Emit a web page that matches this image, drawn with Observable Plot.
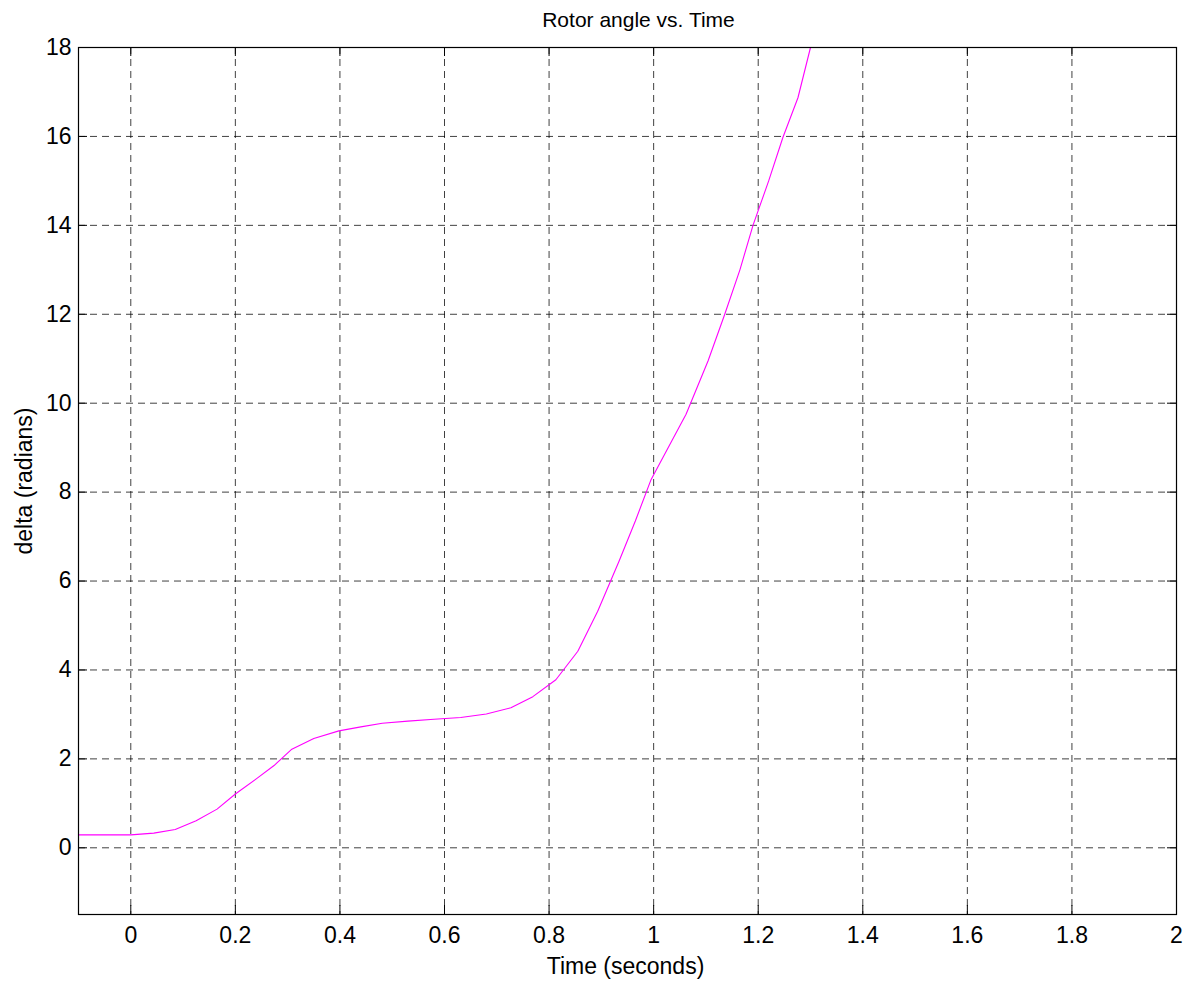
<!DOCTYPE html>
<html>
<head>
<meta charset="utf-8">
<script src="https://cdn.jsdelivr.net/npm/d3@7"></script>
<script src="https://cdn.jsdelivr.net/npm/@observablehq/plot@0.6"></script>
<style>
  html, body { margin: 0; padding: 0; background: #fff; }
  #chart svg { display: block; }
</style>
</head>
<body>
<div id="chart"></div>
<script>
const titleText = "Rotor angle vs. Time";
const xLabel = "Time (seconds)";
const yLabel = "delta (radians)";

const xTicks = [0, 0.2, 0.4, 0.6, 0.8, 1, 1.2, 1.4, 1.6, 1.8, 2];
const yTicks = [0, 2, 4, 6, 8, 10, 12, 14, 16, 18];

const time = [-0.1, 0, 0.044, 0.085, 0.125, 0.165, 0.2, 0.24, 0.274, 0.307, 0.35, 0.398, 0.44, 0.481, 0.53, 0.58, 0.631, 0.68, 0.727, 0.769, 0.813, 0.855, 0.893, 0.934, 0.965, 0.995, 1.03, 1.062, 1.104, 1.136, 1.165, 1.19, 1.22, 1.247, 1.276, 1.3];
const delta = [0.29, 0.29, 0.33, 0.41, 0.61, 0.87, 1.21, 1.55, 1.85, 2.21, 2.46, 2.63, 2.72, 2.80, 2.85, 2.89, 2.93, 3.01, 3.15, 3.40, 3.78, 4.42, 5.32, 6.45, 7.35, 8.28, 9.05, 9.75, 10.95, 12.0, 13.0, 14.0, 15.0, 15.97, 16.87, 18.0];

const data = time.map((t, i) => ({t, d: delta[i]}));

const W = 1188, H = 982;
const mL = 78, mR = 12, mT = 47, mB = 68;
const pw = W - mL - mR, ph = H - mT - mB;
const tickLen = 9;
const font = "Liberation Sans, Arial, sans-serif";

const chart = Plot.plot({
  width: W,
  height: H,
  marginLeft: mL,
  marginRight: mR,
  marginTop: mT,
  marginBottom: mB,
  style: {fontFamily: font, background: "#fff", color: "#000"},
  x: {domain: [-0.1, 2]},
  y: {domain: [-1.5, 18]},
  marks: [
    Plot.gridX(xTicks, {stroke: "#000", strokeOpacity: 0.75, strokeWidth: 1, strokeDasharray: "7,5"}),
    Plot.gridY(yTicks, {stroke: "#000", strokeOpacity: 0.75, strokeWidth: 1, strokeDasharray: "7,5"}),
    Plot.line(data, {x: "t", y: "d", stroke: "#ff00ff", strokeWidth: 1.1, clip: true}),
    // inward ticks on all four sides
    Plot.tickX(xTicks, {x: d => d, insetTop: ph - tickLen, stroke: "#000"}),
    Plot.tickX(xTicks, {x: d => d, insetBottom: ph - tickLen, stroke: "#000"}),
    Plot.tickY(yTicks, {y: d => d, insetRight: pw - tickLen, stroke: "#000"}),
    Plot.tickY(yTicks, {y: d => d, insetLeft: pw - tickLen, stroke: "#000"}),
    Plot.frame({stroke: "#000", strokeWidth: 1.2}),
    Plot.axisX(xTicks, {tickSize: 0, tickPadding: 12, fontSize: 23, tickFormat: d => String(d), label: null}),
    Plot.axisY(yTicks, {tickSize: 0, tickPadding: 7, fontSize: 23, tickFormat: d => String(d), label: null}),
    Plot.text([titleText], {frameAnchor: "top", lineAnchor: "middle", textAnchor: "middle", dx: 11, dy: -27, fontSize: 21, fill: "#000"}),
    Plot.text([xLabel], {frameAnchor: "bottom", lineAnchor: "middle", textAnchor: "middle", dx: -2, dy: 52, fontSize: 23, fill: "#000"}),
    Plot.text([yLabel], {frameAnchor: "left", lineAnchor: "middle", textAnchor: "middle", dx: -54, rotate: -90, fontSize: 23, fill: "#000"})
  ]
});

document.getElementById("chart").appendChild(chart);
</script>
</body>
</html>
